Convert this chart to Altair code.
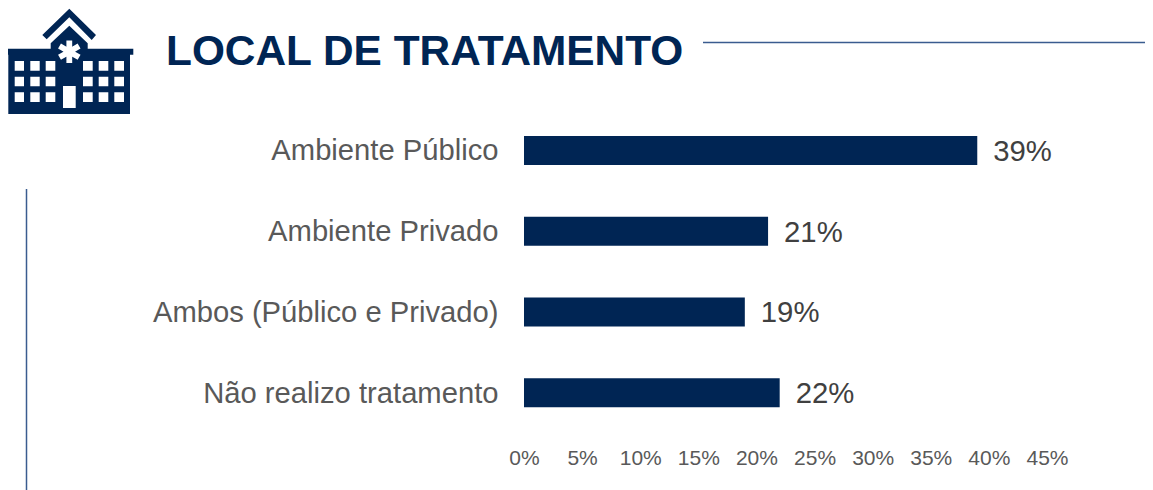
import math
import altair as alt
import pandas as pd

categories = ["Ambiente Público", "Ambiente Privado", "Ambos (Público e Privado)", "Não realizo tratamento"]
values = [0.39, 0.21, 0.19, 0.22]
x_ticks = [0, 0.05, 0.10, 0.15, 0.20, 0.25, 0.30, 0.35, 0.40, 0.45]
title_text = ["LOCAL DE TRATAMENTO"]

NAVY = "#002554"
FONT = "Liberation Sans"
LEFT, TOP = 516, 102  # padding of the plot area inside the page margin

df = pd.DataFrame({"cat": categories, "val": values})

x = alt.X("val:Q", scale=alt.Scale(domain=[0, 0.45], nice=False),
          axis=alt.Axis(values=x_ticks, format=".0%", title=None, grid=False, domain=False, ticks=False,
                        labelFontSize=21, labelColor="#595959", labelFont=FONT, labelPadding=14,
                        labelFlush=False))
y = alt.Y("cat:N", sort=categories, scale=alt.Scale(paddingInner=0.64, paddingOuter=0.32),
          axis=alt.Axis(title=None, domain=False, ticks=False, grid=False, labelFontSize=29.2,
                        labelColor="#595959", labelFont=FONT, labelPadding=26, labelLimit=500, labelOffset=1))

bars = alt.Chart(df).mark_bar(color=NAVY, size=29).encode(x=x, y=y)
labels = alt.Chart(df).mark_text(align="left", baseline="middle", dx=16, dy=1.5, fontSize=29.3, color="#404040", font=FONT).encode(
    x=x, y=y, text=alt.Text("val:Q", format=".0%"))

# decorative shapes, positioned in pixels relative to the plot area
def px(v):
    return v - 8 - LEFT
def py(v):
    return v - 8 - TOP

decor_df = pd.DataFrame({"k": [0]})
h_line = alt.Chart(decor_df).mark_rule(color="#3a5c8f", strokeWidth=1.5).encode(
    x=alt.value(px(703)), x2=alt.value(px(1153)), y=alt.value(py(42.5)))
v_line = alt.Chart(decor_df).mark_rule(color="#3a5c8f", strokeWidth=1.5).encode(
    x=alt.value(px(26.5)), y=alt.value(py(189)), y2=alt.value(py(490)))

title_df = pd.DataFrame({"t": title_text})
title = alt.Chart(title_df).mark_text(align="left", baseline="alphabetic", font=FONT, fontSize=42.4,
                                      fontWeight="bold", color=NAVY).encode(
    x=alt.value(px(166)), y=alt.value(py(64.5)), text="t:N")

ICON_CX, ICON_CY, ICON_S = 69.0, 61.0, 128.0
def n(pt):
    return f"{(pt[0]-ICON_CX)/(ICON_S/2):.4f},{(pt[1]-ICON_CY)/(ICON_S/2):.4f}"
def poly(pts):
    return "M" + "L".join(n(p) for p in pts) + "Z"
def box(x0, y0, x1, y1):
    return poly([(x0, y0), (x1, y0), (x1, y1), (x0, y1)])

roof = [(69.3,8.7),(96,35),(91.7,40),(69.3,17.3),(46.7,39.3),(42.3,35)]
body = [(69.3,25.7),(87.7,43.3),(87.7,48.7),(133.3,48.7),(133.3,54.7),(130,54.7),(130,114),
        (8.3,114),(8.3,54.7),(5,54.7),(5,48.7),(50.7,48.7),(50.7,43.3)]
dark_path = poly(roof) + poly(body)

white = ""
for wx in [(14.7,24),(30.3,39.7),(45.7,55.3),(83,92.7),(98.7,108.3),(114.3,124)]:
    for wy in [(61,70.7),(76.7,86.3),(92.3,102)]:
        white += box(wx[0], wy[0], wx[1], wy[1])
white += box(63, 86, 75.7, 108)
cx, cy = 69.3, 51.7
for ang in range(0, 360, 60):
    a = math.radians(ang)
    ux, uy = math.sin(a), -math.cos(a)
    vx, vy = -uy, ux
    w, r = 2.9, 11.3
    white += poly([(cx - w*vx, cy - w*vy), (cx + w*vx, cy + w*vy),
                   (cx + w*vx + r*ux, cy + w*vy + r*uy), (cx - w*vx + r*ux, cy - w*vy + r*uy)])

icon_dark = alt.Chart(decor_df).mark_point(shape=dark_path, filled=True, color=NAVY, opacity=1, size=ICON_S**2).encode(
    x=alt.value(px(ICON_CX)), y=alt.value(py(ICON_CY)))
icon_white = alt.Chart(decor_df).mark_point(shape=white, filled=True, color="#ffffff", opacity=1, size=ICON_S**2).encode(
    x=alt.value(px(ICON_CX)), y=alt.value(py(ICON_CY)))

chart = alt.layer(h_line, v_line, icon_dark, icon_white, title, bars, labels).properties(
    width=523, height=323,
    autosize=alt.AutoSizeParams(type="none"),
    padding={"left": LEFT, "top": TOP, "right": 98, "bottom": 57},
    background="white",
).configure_view(stroke=None)

chart.save("out.html", embed_options={"renderer": "svg", "actions": False})
